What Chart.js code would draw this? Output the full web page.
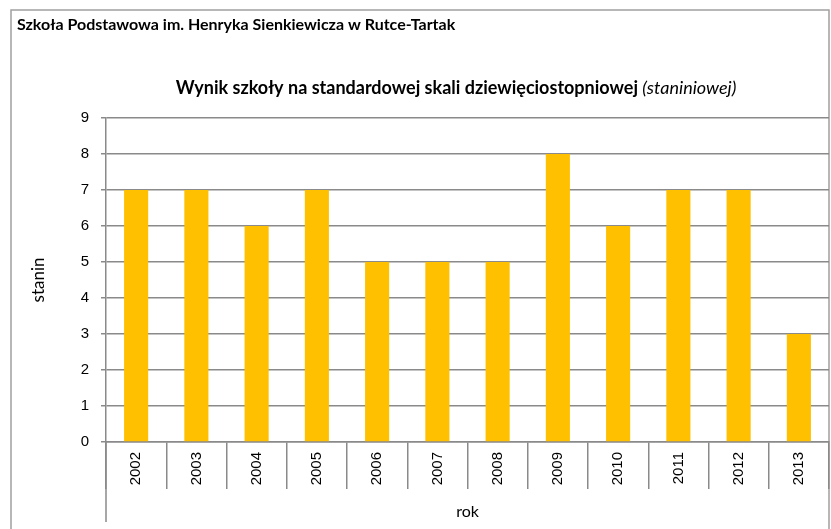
<!DOCTYPE html>
<html>
<head>
<meta charset="utf-8">
<script src="https://cdn.jsdelivr.net/npm/chart.js@4.4.0/dist/chart.umd.min.js"></script>
<style>
  body { margin: 0; background: #fff; }
  #wrap { width: 831px; height: 529px; position: relative; }
</style>
</head>
<body>
<div id="wrap"><canvas id="myChart" width="831" height="529"></canvas></div>
<script>
var years = ['2002', '2003', '2004', '2005', '2006', '2007', '2008', '2009', '2010', '2011', '2012', '2013'];
var stanin = [7, 7, 6, 7, 5, 5, 5, 8, 6, 7, 7, 3];
var yTicks = [0, 1, 2, 3, 4, 5, 6, 7, 8, 9];

var headerText = 'Szkoła Podstawowa im. Henryka Sienkiewicza w Rutce-Tartak';
var titleBold = 'Wynik szkoły na standardowej skali dziewięciostopniowej ';
var titleItalic = '(staniniowej)';

var gridGray = '#8a8a8a';

// frame, header and two-part title
var decor = {
    id: 'decor',
    beforeDraw: function (chart) {
        var c = chart.ctx;
        c.save();
        c.strokeStyle = '#a0a0a0';
        c.lineWidth = 1.5;
        c.beginPath();
        c.moveTo(11, 529);
        c.lineTo(11, 10);
        c.lineTo(829, 10);
        c.lineTo(829, 529);
        c.stroke();

        c.fillStyle = '#000';
        c.textBaseline = 'alphabetic';
        c.textAlign = 'left';
        c.font = 'bold 16px Lato';
        c.fillText(headerText, 17, 30);

        c.font = 'bold 18px Lato';
        var w1 = c.measureText(titleBold).width;
        c.font = 'italic 18px Lato';
        var w2 = c.measureText(titleItalic).width;
        var x0 = 456 - (w1 + w2) / 2;
        c.font = 'bold 18px Lato';
        c.fillText(titleBold, x0, 94);
        c.font = 'italic 18px Lato';
        c.fillText(titleItalic, x0 + w1, 94);
        c.restore();
    },
    afterDraw: function (chart) {
        var a = chart.chartArea;
        var c = chart.ctx;
        c.save();
        c.strokeStyle = gridGray;
        c.lineWidth = 1.5;
        c.beginPath();
        c.moveTo(a.left, a.bottom);
        c.lineTo(a.left, a.bottom + 80);
        c.stroke();
        c.restore();
    }
};

var ctx = document.getElementById('myChart').getContext('2d');
var chart = new Chart(ctx, {
    type: 'bar',
    data: {
        labels: years,
        datasets: [{
            label: 'stanin',
            data: stanin,
            backgroundColor: '#FFC000',
            borderWidth: 0,
            categoryPercentage: 1,
            barPercentage: 0.4
        }]
    },
    options: {
        responsive: false,
        animation: false,
        devicePixelRatio: 1,
        layout: { padding: { top: 118, left: 0, right: 2, bottom: 0 } },
        plugins: {
            legend: { display: false },
            title: { display: false },
            tooltip: { enabled: false }
        },
        scales: {
            x: {
                offset: true,
                grid: {
                    offset: true,
                    drawOnChartArea: false,
                    drawTicks: true,
                    tickLength: 47,
                    color: gridGray,
                    lineWidth: 1.5
                },
                border: { color: gridGray, width: 1.5 },
                ticks: {
                    autoSkip: false,
                    minRotation: 90,
                    maxRotation: 90,
                    padding: -37,
                    color: '#000',
                    font: { family: 'Liberation Sans', size: 15 }
                },
                title: {
                    display: true,
                    text: 'rok',
                    color: '#000',
                    font: { family: 'Lato', size: 16 },
                    padding: { top: 0, bottom: 8 }
                },
                afterFit: function (scale) { scale.height = 87; }
            },
            y: {
                min: 0,
                max: 9,
                afterBuildTicks: function (scale) {
                    scale.ticks = yTicks.map(function (v) { return { value: v }; });
                },
                grid: {
                    color: gridGray,
                    lineWidth: 1.5,
                    tickLength: 5
                },
                border: { color: gridGray, width: 1.5 },
                ticks: {
                    padding: 12,
                    color: '#000',
                    font: { family: 'Liberation Sans', size: 15 }
                },
                title: {
                    display: true,
                    text: 'stanin',
                    color: '#000',
                    font: { family: 'Lato', size: 17 },
                    padding: { top: 28, bottom: 0 }
                },
                afterFit: function (scale) { scale.width = 106; }
            }
        }
    },
    plugins: [decor]
});
</script>
</body>
</html>
